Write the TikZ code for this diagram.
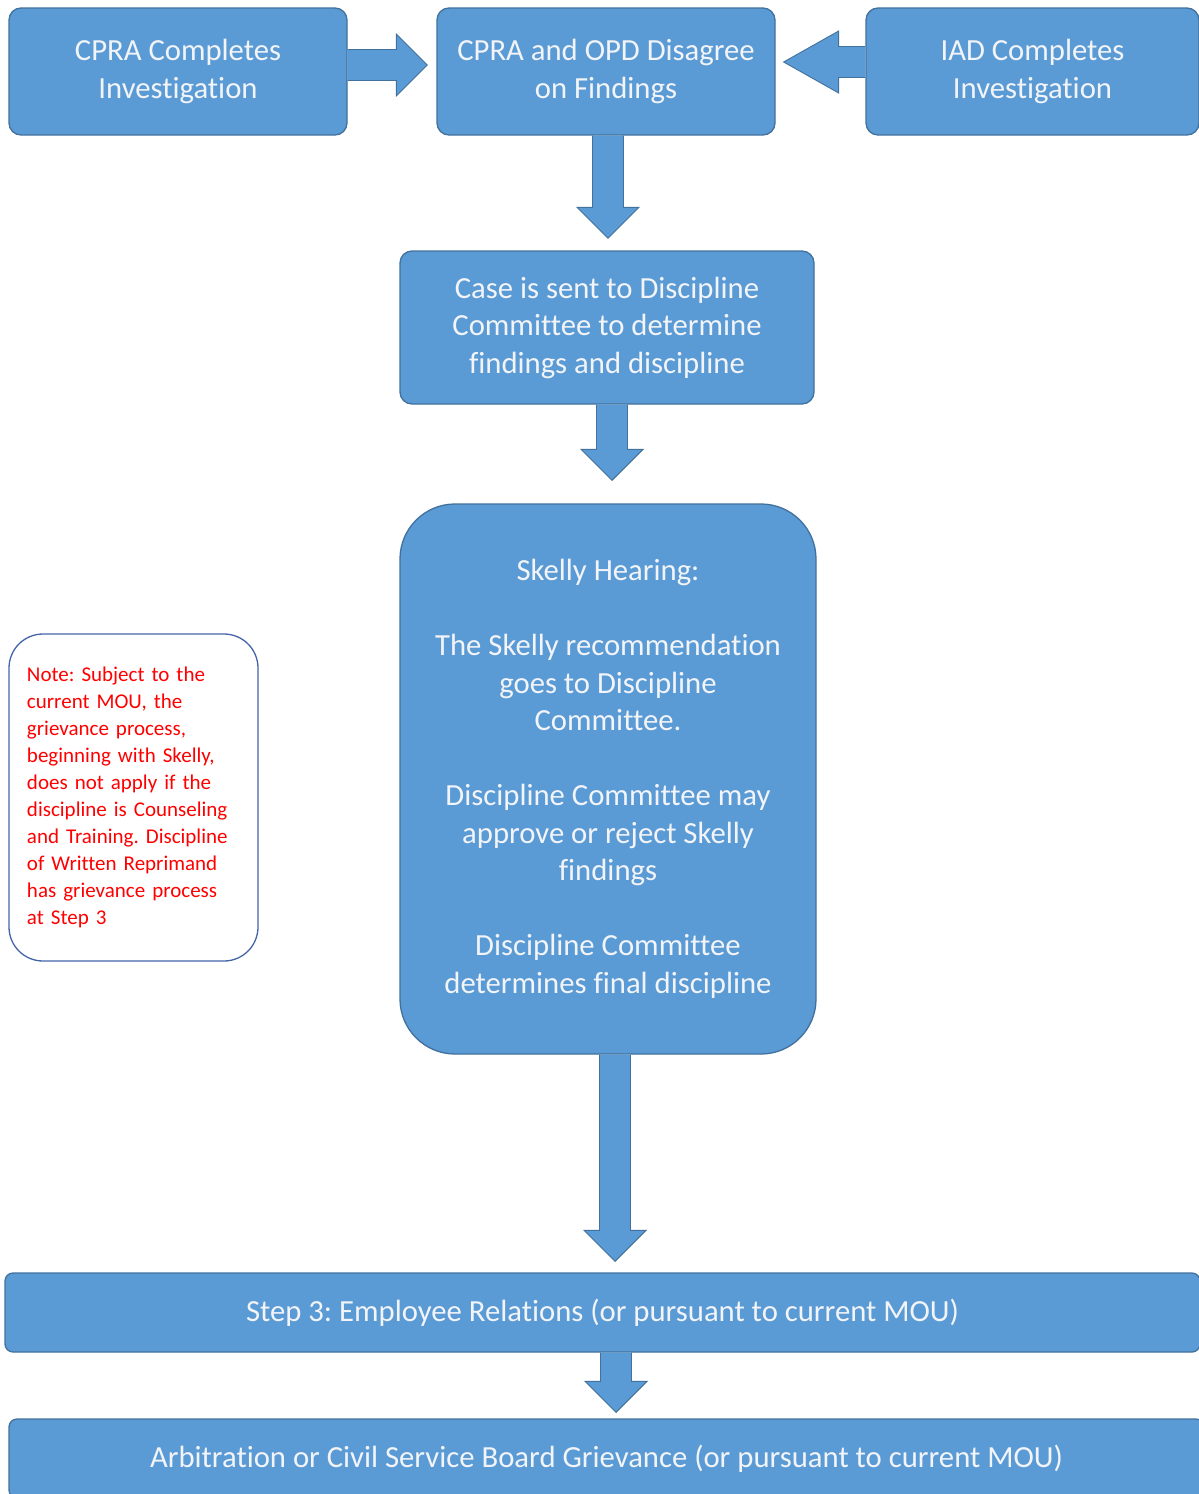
\documentclass[tikz,border=0pt]{standalone}
\usepackage{fontspec}
\setmainfont{Carlito}[Ligatures=NoCommon]
\usetikzlibrary{calc}
\frenchspacing
\definecolor{boxblue}{RGB}{91,155,213}
\definecolor{boxedge}{RGB}{65,113,156}
\definecolor{noteedge}{RGB}{68,100,170}
\definecolor{boxtext}{RGB}{242,244,248}
\newcommand{\downblockarrow}[4]{% #1 from node anchor, #2 offset, #3 to node anchor, #4 offset
  \draw[blockarr] let \p1=($(#1)+(#2)$), \p2=($(#3)+(#4)$) in
  (\x1-15.5pt,\y1) -- (\x1-15.5pt,\y2+31pt) -- (\x1-31pt,\y2+31pt) -- (\x1,\y2)
  -- (\x1+31pt,\y2+31pt) -- (\x1+15.5pt,\y2+31pt) -- (\x1+15.5pt,\y1);}
\begin{document}
\begin{tikzpicture}[x=1pt,y=-1pt,
  box/.style={rectangle, rounded corners=12pt, fill=boxblue, draw=boxedge, line width=1.3pt,
    text=boxtext, align=center, inner sep=0pt, font=\fontsize{30.7}{37.5}\selectfont\frenchspacing},
  notebox/.style={rectangle, rounded corners=34pt, fill=white, draw=noteedge, line width=1.3pt,
    text=red, align=left, inner sep=0pt, font=\fontsize{21}{27}\selectfont\frenchspacing},
  blockarr/.style={fill=boxblue, draw=boxedge, line width=0.9pt, line join=miter}]
\clip (0,0) rectangle (1199,1494);
\useasboundingbox (0,0) rectangle (1199,1494);
\fill[white] (0,0) rectangle (1199,1494);

\node[box, minimum width=338pt, minimum height=127pt] (b1) at (178,71.5) {CPRA Completes\\Investigation};
\node[box, minimum width=338pt, minimum height=127pt] (b2) at (606,71.5) {CPRA and OPD Disagree\\on Findings};
\node[box, minimum width=333pt, minimum height=127pt] (b3) at (1032.5,71.5) {IAD Completes\\Investigation};
\node[box, minimum width=414pt, minimum height=153pt] (b4) at (607,327.5) {Case is sent to Discipline\\Committee to determine\\findings and discipline};
\node[box, rounded corners=55pt, minimum width=416pt, minimum height=550pt] (b5) at (608,779)
  {Skelly Hearing:\\[37.5pt]The Skelly recommendation\\goes to Discipline\\Committee.\\[37.5pt]Discipline Committee may\\approve or reject Skelly\\findings\\[37.5pt]Discipline Committee\\determines final discipline};
\node[notebox, minimum width=249pt, minimum height=327pt, text width=213pt] (note) at (133.5,797.5)
  {Note: Subject to the\\current MOU, the\\grievance process,\\beginning with Skelly,\\does not apply if the\\discipline is Counseling\\and Training. Discipline\\of Written Reprimand\\has grievance process\\at Step 3};
\node[box, rounded corners=8pt, minimum width=1195pt, minimum height=79pt] (b7) at (602.5,1312.5) {Step 3: Employee Relations (or pursuant to current MOU)};
\node[box, rounded corners=8pt, minimum width=1195pt, minimum height=79pt] (b8) at (606.5,1458.5) {Arbitration or Civil Service Board Grievance (or pursuant to current MOU)};

% right arrow b1 -> b2
\draw[blockarr] let \p1=($(b1.east)+(0,-6.5)$), \p2=($(b2.west)+(-9,-6.5)$) in
  (\x1,\y1+15.5pt) -- (\x2-31pt,\y1+15.5pt) -- (\x2-31pt,\y1+31pt) -- (\x2,\y1)
  -- (\x2-31pt,\y1-31pt) -- (\x2-31pt,\y1-15.5pt) -- (\x1,\y1-15.5pt);
% left arrow b3 -> b2
\draw[blockarr] let \p1=($(b3.west)+(0,-9.5)$), \p2=($(b2.east)+(8,-9.5)$) in
  (\x1,\y1+15.5pt) -- (\x2+55pt,\y1+15.5pt) -- (\x2+55pt,\y1+31pt) -- (\x2,\y1)
  -- (\x2+55pt,\y1-31pt) -- (\x2+55pt,\y1-15.5pt) -- (\x1,\y1-15.5pt);
% down arrows
\downblockarrow{b2.south}{2,0}{b4.north}{1,-12}
\downblockarrow{b4.south}{5,0}{b5.north}{4,-23}
\downblockarrow{b5.south}{7,0}{b7.north}{12.5,-11}
\downblockarrow{b7.south}{13.5,0}{b8.north}{9.5,-6}
\end{tikzpicture}
\end{document}
